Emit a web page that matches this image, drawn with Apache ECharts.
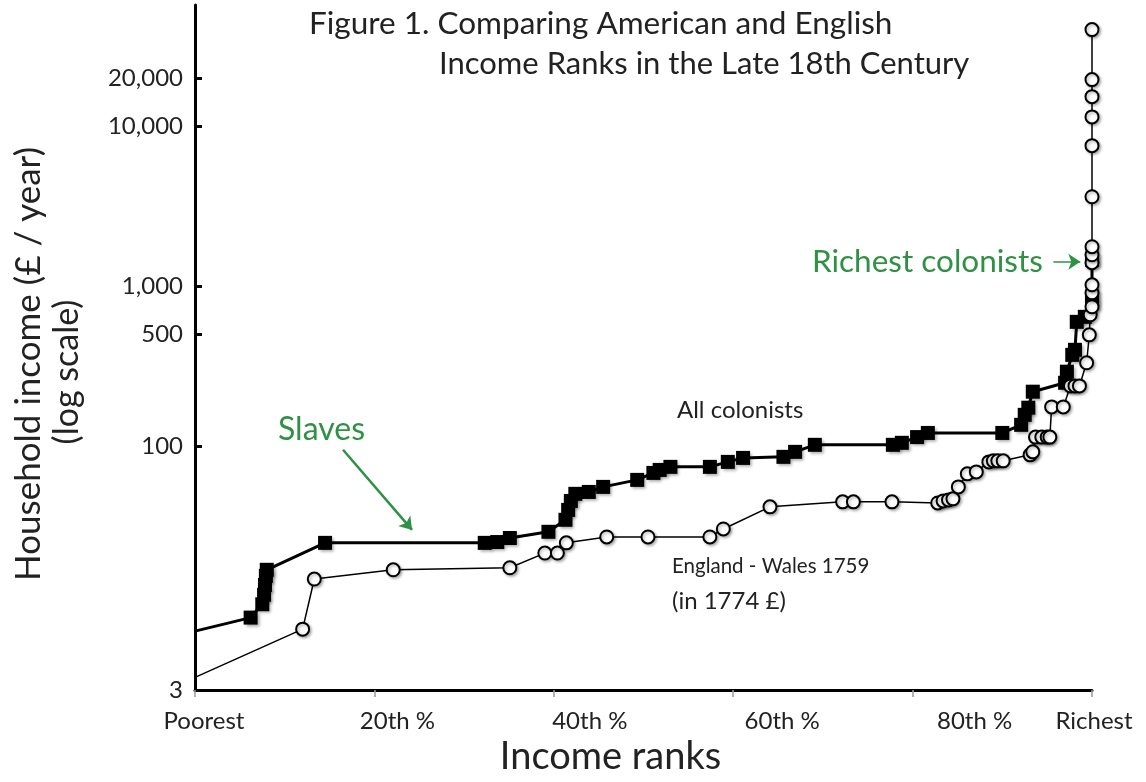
<!DOCTYPE html>
<html>
<head>
<meta charset="utf-8">
<script src="https://cdn.jsdelivr.net/npm/echarts@6/dist/echarts.min.js"></script>
<style>
  html, body { margin: 0; padding: 0; background: #fff; }
  #chart { width: 1146px; height: 782px; }
</style>
</head>
<body>
<div id="chart"></div>
<script>
// Income rank (percent, poorest = 0) and household income (£ / year)
const colonistRank = [0, 6.2, 7.5, 7.7, 7.8, 7.9, 8.0, 14.5, 32.3, 33.7, 35.1, 39.4, 41.3, 41.6, 41.9, 42.4, 43.9, 45.5,
  49.3, 51.1, 51.8, 53.0, 57.4, 59.4, 61.1, 65.6, 66.9, 69.1, 77.8, 78.8, 80.5, 81.7, 90.0, 92.1, 92.5, 92.9, 93.4,
  97.0, 97.2, 97.8, 98.1, 98.3, 99.2, 100, 100, 100];
const colonistIncome = [7.0, 8.5, 10.3, 11.8, 13.6, 15.5, 16.9, 24.9, 24.9, 25.2, 26.7, 29.2, 34.7, 40, 45.5, 50.4, 51.8, 55.7,
  61.6, 68.1, 71.1, 74.3, 74.3, 79.8, 84.5, 85.8, 92.2, 102, 102, 105, 114, 121, 121, 136, 157, 174, 219,
  249, 292, 372, 400, 598, 643, 787, 857, 1461];

const englandRank = [0, 12.0, 13.3, 22.1, 35.1, 39.0, 40.4, 41.4, 45.9, 50.5, 57.4, 58.9, 64.1, 72.2, 73.4, 77.7, 82.8, 83.4,
  84.0, 84.5, 85.1, 86.1, 87.1, 88.5, 89.0, 89.5, 90.1, 93.1, 93.4, 93.7, 94.4, 95.0, 95.3, 95.5, 96.8, 97.6, 98.1, 98.6,
  99.4, 99.7, 99.8, 100, 100, 100, 100, 100, 100, 100, 100, 100, 100, 100, 100];
const englandIncome = [3.6, 7.2, 14.8, 16.9, 17.4, 21.5, 21.5, 24.9, 27.1, 27.1, 27.1, 30.4, 41.8, 44.9, 44.9, 44.9, 44.2, 45.5,
  46.2, 46.9, 55.7, 67.2, 69.1, 79.8, 81, 81, 81, 88.3, 92.2, 114, 114, 114, 114, 176, 176, 238, 238, 238,
  332, 496, 662, 743, 909, 1019, 1400, 1570, 1762, 3615, 7540, 11400, 15250, 19500, 40000];

// Axis ticks
const yTickValues = [3, 100, 500, 1000, 10000, 20000];
const xTickValues = [0, 20, 40, 60, 80, 100];
const xTickLabels = ['Poorest', '20th %', '40th %', '60th %', '80th %', 'Richest'];

// Annotation arrows: [rank, income] start and end
const slavesArrow = [[16.5, 95], [24.2, 30]];
const richestArrow = [[95.7, 1420], [98.7, 1420]];

// ---- layout / styling ----
const FONT = 'Lato, "Open Sans", sans-serif';
const INK = '#222';
const GREEN = '#2f9143';
const Y_MIN = 3, Y_MAX = 57000;
// each tick label sits a little to the right of its tick
const xLabelShift = [9, 23, 36, 49, 62, 2];

const rich = {};
xLabelShift.forEach((s, i) => {
  rich['t' + i] = { fontFamily: FONT, fontSize: 24, color: INK, padding: [0, 0, 0, 2 * s] };
});

function pairs(xs, ys) {
  return xs.map((x, i) => i === 0 ? { value: [x, ys[i]], symbol: 'none' } : [x, ys[i]]);
}

function label(x, y, text, size, color, rotation) {
  return {
    type: 'text', x: x, y: y, rotation: rotation || 0,
    style: {
      text: text, fontFamily: FONT, fontSize: size, fill: color,
      align: rotation ? 'center' : 'left', verticalAlign: 'middle',
      textAlign: rotation ? 'center' : 'left', textVerticalAlign: 'middle'
    }
  };
}

const chart = echarts.init(document.getElementById('chart'), null, { renderer: 'canvas' });

chart.setOption({
  backgroundColor: '#fff',
  animation: false,
  textStyle: { fontFamily: FONT },
  title: [
    { text: 'Figure 1. Comparing American and English', left: 304, top: 3,
      textStyle: { fontFamily: FONT, fontSize: 31.5, fontWeight: 'normal', color: INK } },
    { text: 'Income Ranks in the Late 18th Century', left: 434, top: 43,
      textStyle: { fontFamily: FONT, fontSize: 31, fontWeight: 'normal', color: INK } }
  ],
  grid: { left: 195, right: 54, top: 5, bottom: 92, containLabel: false },
  xAxis: {
    type: 'value', min: 0, max: 100, interval: 20,
    axisLine: { lineStyle: { color: '#000', width: 3 } },
    axisTick: { length: 7, lineStyle: { color: '#999', width: 1.5 } },
    splitLine: { show: false },
    axisLabel: {
      margin: 19,
      formatter: v => {
        const i = xTickValues.indexOf(v);
        return i < 0 ? '' : '{t' + i + '|' + xTickLabels[i] + '}';
      },
      rich: rich
    },
    name: 'Income ranks', nameLocation: 'middle', nameGap: 47,
    nameTextStyle: { fontFamily: FONT, fontSize: 38, color: INK, padding: [0, 66, 0, 0] }
  },
  yAxis: [
    {
      // data axis: logarithmic income scale
      type: 'log', logBase: 10, min: Y_MIN, max: Y_MAX,
      axisLine: { lineStyle: { color: '#000', width: 3 } },
      axisTick: { show: false }, axisLabel: { show: false }, splitLine: { show: false }
    },
    {
      // label axis in log10 units, sharing the same extent
      type: 'value', min: Math.log10(Y_MIN), max: Math.log10(Y_MAX), position: 'left',
      axisLine: { show: false },
      splitLine: { show: false },
      axisTick: { show: true, inside: true, length: 7, lineStyle: { color: '#000', width: 3 },
        customValues: yTickValues.map(v => Math.log10(v)) },
      axisLabel: { customValues: yTickValues.map(v => Math.log10(v)), margin: 12,
        fontFamily: FONT, fontSize: 24, color: INK,
        formatter: v => Math.round(Math.pow(10, v)).toLocaleString('en-US') }
    }
  ],
  series: [
    {
      name: 'All colonists', type: 'line', yAxisIndex: 0,
      data: pairs(colonistRank, colonistIncome),
      symbol: 'rect', symbolSize: 14,
      lineStyle: { color: '#000', width: 3 },
      itemStyle: { color: '#000', shadowColor: 'rgba(0,0,0,0.35)', shadowBlur: 3, shadowOffsetX: 2, shadowOffsetY: 2 },
      z: 2,
      markLine: {
        silent: true, animation: false,
        symbol: ['none', 'arrow'], symbolSize: [12, 12],
        label: { show: false },
        lineStyle: { color: GREEN, width: 2.5, type: 'solid' },
        data: [
          [{ coord: slavesArrow[0] }, { coord: slavesArrow[1] }],
          [{ coord: richestArrow[0], lineStyle: { width: 1.5 } }, { coord: richestArrow[1] }]
        ]
      }
    },
    {
      name: 'England - Wales 1759', type: 'line', yAxisIndex: 0,
      data: pairs(englandRank, englandIncome),
      symbol: 'circle', symbolSize: 13,
      lineStyle: { color: '#000', width: 1.5 },
      itemStyle: { color: '#fff', borderColor: '#000', borderWidth: 2,
        shadowColor: 'rgba(0,0,0,0.3)', shadowBlur: 3, shadowOffsetX: 1.5, shadowOffsetY: 1.5 },
      z: 3
    }
  ],
  graphic: [
    label(29, 364, 'Household income (£ / year)', 35, INK, Math.PI / 2),
    label(67, 372, '(log scale)', 34, INK, Math.PI / 2),
    label(677, 410, 'All colonists', 24, INK),
    label(672, 566, 'England - Wales 1759', 20.5, INK),
    label(672, 601, '(in 1774 £)', 24, INK),
    label(278, 430, 'Slaves', 32, GREEN),
    label(812, 262, 'Richest colonists', 31.5, GREEN)
  ]
});
</script>
</body>
</html>
